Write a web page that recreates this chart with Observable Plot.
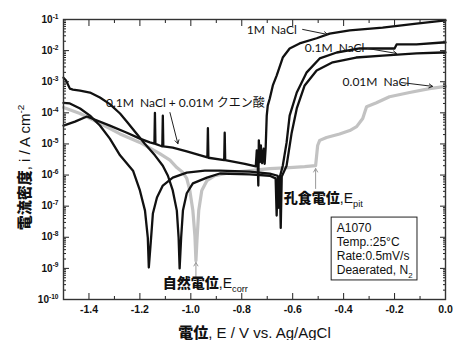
<!DOCTYPE html>
<html><head><meta charset="utf-8">
<script src="https://cdn.jsdelivr.net/npm/d3@7"></script>
<script src="https://cdn.jsdelivr.net/npm/@observablehq/plot@0.6"></script>
<style>body{margin:0;background:#fff}</style>
</head><body><div id="chart"></div>
<script>
// ---- data: [E (V vs Ag/AgCl), i (A cm^-2)] ----
const nacl1M = [[-1.500,3.9e-5],[-1.455,5.2e-5],[-1.408,7.6e-5],[-1.318,3.9e-5],[-1.251,2.3e-5],[-1.200,1.48e-5],[-1.161,1.12e-5],[-1.143,1.02e-5],[-1.141,1.0e-4],[-1.139,1.0e-5],[-1.122,8.9e-6],[-1.112,8.4e-6],[-1.110,8.1e-5],[-1.108,8.3e-6],[-1.071,7.6e-6],[-1.016,5.8e-6],[-0.945,3.9e-6],[-0.935,3.7e-6],[-0.933,3.2e-5],[-0.931,3.6e-6],[-0.869,3.0e-6],[-0.867,2.3e-5],[-0.865,3.0e-6],[-0.788,2.3e-6],[-0.745,1.9e-6],[-0.741,6.2e-6],[-0.737,1.8e-6],[-0.735,4.6e-7],[-0.733,1.3e-5],[-0.729,2.6e-6],[-0.725,8.9e-6],[-0.720,2.4e-6],[-0.714,7.0e-6],[-0.710,2.3e-6],[-0.706,8.0e-6],[-0.702,8.0e-5],[-0.698,1.7e-4],[-0.690,2.9e-4],[-0.678,7.6e-4],[-0.663,1.58e-3],[-0.639,6.0e-3],[-0.612,1.17e-2],[-0.573,1.7e-2],[-0.506,2.5e-2],[-0.455,3.5e-2],[-0.376,4.5e-2],[-0.247,5.5e-2],[-0.114,7.4e-2],[0.000,9.3e-2]];
const nacl01M = [[-1.500,1.35e-3],[-1.490,1.10e-3],[-1.475,6.0e-4],[-1.463,5.6e-4],[-1.435,5.2e-4],[-1.396,4.5e-4],[-1.357,3.1e-4],[-1.318,1.9e-4],[-1.278,9.5e-5],[-1.251,5.2e-5],[-1.220,2.5e-5],[-1.180,1.0e-5],[-1.141,4.3e-6],[-1.110,2.0e-6],[-1.090,9.5e-7],[-1.071,3.2e-7],[-1.055,7.2e-8],[-1.048,9.8e-9],[-1.044,1.0e-9],[-1.038,9.8e-9],[-1.031,7.2e-8],[-1.016,2.6e-7],[-0.992,5.4e-7],[-0.937,8.3e-7],[-0.886,1.12e-6],[-0.769,1.05e-6],[-0.690,9.5e-7],[-0.667,7.8e-7],[-0.663,5.0e-8],[-0.659,7.1e-7],[-0.655,1.5e-7],[-0.650,8.9e-7],[-0.639,2.0e-6],[-0.624,1.1e-5],[-0.612,8.1e-5],[-0.584,4.5e-4],[-0.545,2.0e-3],[-0.494,5.6e-3],[-0.427,8.7e-3],[-0.337,1.17e-2],[-0.200,1.17e-2],[-0.192,1.58e-2],[-0.114,1.58e-2],[-0.012,1.82e-2],[0.000,1.82e-2]];
const nacl001M = [[-1.500,2.1e-4],[-1.475,2.0e-4],[-1.435,1.38e-4],[-1.396,8.1e-5],[-1.357,3.9e-5],[-1.318,1.48e-5],[-1.278,4.3e-6],[-1.227,1.38e-6],[-1.200,3.2e-7],[-1.180,7.2e-8],[-1.169,9.8e-9],[-1.165,1.07e-9],[-1.156,9.8e-9],[-1.149,5.8e-8],[-1.133,1.9e-7],[-1.110,4.6e-7],[-1.071,8.3e-7],[-1.016,1.2e-6],[-0.945,1.38e-6],[-0.886,1.38e-6],[-0.769,1.29e-6],[-0.690,1.12e-6],[-0.659,9.5e-7],[-0.655,8.9e-8],[-0.651,8.9e-7],[-0.647,2.0e-8],[-0.643,8.9e-7],[-0.624,2.0e-6],[-0.604,2.3e-5],[-0.584,1.38e-4],[-0.553,7.6e-4],[-0.506,2.3e-3],[-0.443,4.2e-3],[-0.351,6.0e-3],[-0.247,6.9e-3],[-0.114,8.1e-3],[-0.012,8.7e-3],[0.000,8.7e-3]];
const naclCitric = [[-1.500,1.48e-4],[-1.435,9.5e-5],[-1.357,4.6e-5],[-1.278,2.1e-5],[-1.200,1.12e-5],[-1.122,4.9e-6],[-1.082,3.0e-6],[-1.055,1.74e-6],[-1.031,1.2e-6],[-1.016,7.8e-7],[-1.004,3.2e-7],[-0.992,7.2e-8],[-0.984,1.12e-8],[-0.980,1.78e-9],[-0.976,7.8e-9],[-0.969,7.2e-8],[-0.957,3.2e-7],[-0.937,6.6e-7],[-0.906,9.5e-7],[-0.847,1.2e-6],[-0.769,1.38e-6],[-0.690,1.62e-6],[-0.612,1.74e-6],[-0.553,1.86e-6],[-0.510,2.0e-6],[-0.502,8.9e-6],[-0.494,1.3e-5],[-0.467,1.62e-5],[-0.416,2.1e-5],[-0.376,2.7e-5],[-0.349,3.6e-5],[-0.325,6.6e-5],[-0.310,1.58e-4],[-0.271,2.1e-4],[-0.220,3.3e-4],[-0.141,4.5e-4],[-0.063,6.0e-4],[0.000,7.1e-4]];

// ---- axis ticks & labels ----
const xMajor = [-1.4,-1.2,-1.0,-0.8,-0.6,-0.4,-0.2,0.0];
const xMinor = [-1.5,-1.3,-1.1,-0.9,-0.7,-0.5,-0.3,-0.1];
const yMajor = [1e-1,1e-2,1e-3,1e-4,1e-5,1e-6,1e-7,1e-8,1e-9,1e-10];
const yTickLabels = ["10^{-1}","10^{-2}","10^{-3}","10^{-4}","10^{-5}","10^{-6}","10^{-7}","10^{-8}","10^{-9}","10^{-10}"];
const yMinor = yMajor.slice(1).flatMap(d => [2,3,4,5,6,7,8,9].map(m => m * d));
const xTitle = "**電位**, E / V vs. Ag/AgCl";
const yTitle = "**電流密度**, i / A cm^{-2}";

// ---- annotations ----
const labels = [
  {text: "1M\u00a0 NaCl", E: -0.780, i: 4.4e-2},
  {text: "0.1M\u00a0 NaCl", E: -0.553, i: 1.17e-2},
  {text: "0.01M\u00a0 NaCl", E: -0.404, i: 9.4e-4},
  {text: "0.1M\u00a0 NaCl + 0.01M クエン酸", E: -1.333, i: 2.1e-4}
];
const arrows = [
  {E1: -0.561, i1: 4.8e-2, E2: -0.463, i2: 3.3e-2},
  {E1: -0.306, i1: 1.17e-2, E2: -0.192, i2: 8.1e-3},
  {E1: -0.173, i1: 9.4e-4, E2: -0.051, i2: 7.1e-4},
  {E1: -1.082, i1: 1.02e-4, E2: -1.051, i2: 1.02e-5}
];
const potLabels = [
  {text: "**孔食電位**,E_{pit}", E: -0.635, i: 1.74e-7},
  {text: "**自然電位**,E_{corr}", E: -1.110, i: 3.2e-10}
];
const potArrows = [
  {E1: -0.510, i1: 3.7e-7, E2: -0.510, i2: 1.62e-6},
  {E1: -0.980, i1: 5.0e-10, E2: -0.980, i2: 1.55e-9}
];
const boxLines = ["A1070", "Temp.:25°C", "Rate:0.5mV/s", "Deaerated, N_{2}"];
const boxLineI = [2.0e-8, 6.8e-9, 2.4e-9, 8.5e-10];
const box = [{E1: -0.447, E2: -0.110, i1: 4.1e-10, i2: 4.3e-8}];
const boxTextE = -0.427;

const toRows = (name, arr) => arr.map(([E, i]) => ({series: name, E, i}));
const blackRows = [
  ...toRows("1M NaCl", nacl1M),
  ...toRows("0.1M NaCl", nacl01M),
  ...toRows("0.01M NaCl", nacl001M)
];
const grayRows = toRows("0.1M NaCl + 0.01M citric acid", naclCitric);

const INK = "#222";
const plot = Plot.plot({
  width: 456, height: 340,
  marginLeft: 63, marginRight: 11, marginTop: 19, marginBottom: 41,
  style: {fontFamily: "'Liberation Sans', Arial, sans-serif", background: "#fff", color: INK},
  x: {domain: [-1.5, 0]},
  y: {type: "log", domain: [1e-10, 1e-1]},
  marks: [
    Plot.line(grayRows, {x: "E", y: "i", stroke: "#c2c2c2", strokeWidth: 3.2, strokeLinejoin: "round"}),
    Plot.line(blackRows, {x: "E", y: "i", z: "series", stroke: "#111", strokeWidth: 2.3, strokeLinejoin: "round"}),
    Plot.text(labels, {x: "E", y: "i", text: "text", textAnchor: "start", fontSize: 12, fontFamily: "Lato, 'Noto Sans CJK JP', sans-serif", fill: "#111"}),
    Plot.arrow(arrows, {x1: "E1", y1: "i1", x2: "E2", y2: "i2", stroke: "#222", strokeWidth: 1, headLength: 6}),
    Plot.arrow(potArrows, {x1: "E1", y1: "i1", x2: "E2", y2: "i2", stroke: "#999", strokeWidth: 1, headLength: 6}),
    Plot.text(potLabels, {x: "E", y: "i", text: "text", textAnchor: "start", fontSize: 14, fill: "#111"}),
    Plot.rect(box, {x1: "E1", x2: "E2", y1: "i1", y2: "i2", fill: "#fff", stroke: "#222", strokeWidth: 1}),
    Plot.text(boxLines, {x: boxTextE, y: (d, k) => boxLineI[k], text: d => d, textAnchor: "start", fontSize: 12, fill: "#111"}),
    // ticks (inward)
    Plot.axisX(xMajor, {anchor: "bottom", tickSize: -6, fill: "none", stroke: INK}),
    Plot.axisX(xMinor, {anchor: "bottom", tickSize: -3, fill: "none", stroke: INK}),
    Plot.axisX(xMajor, {anchor: "top", tickSize: -6, fill: "none", stroke: INK}),
    Plot.axisX(xMinor, {anchor: "top", tickSize: -3, fill: "none", stroke: INK}),
    Plot.axisY(yMajor, {anchor: "left", tickSize: -6, fill: "none", stroke: INK}),
    Plot.axisY(yMinor, {anchor: "left", tickSize: -3, fill: "none", stroke: INK}),
    Plot.axisY(yMajor, {anchor: "right", tickSize: -6, fill: "none", stroke: INK}),
    Plot.axisY(yMinor, {anchor: "right", tickSize: -3, fill: "none", stroke: INK}),
    // tick labels
    Plot.axisX(xMajor, {anchor: "bottom", tickSize: 0, tickPadding: 6, tickFormat: d => d.toFixed(1), label: null, fontWeight: "bold", fontSize: 10.5, fill: "#111"}),
    Plot.axisY(yMajor, {anchor: "left", tickSize: 0, tickPadding: 5, tickFormat: d => yTickLabels[yMajor.indexOf(d)], label: null, fontWeight: "bold", fontSize: 10, fill: "#111"}),
    // axis titles
    Plot.text([xTitle], {frameAnchor: "bottom", dy: 38, text: d => d, textAnchor: "middle", fontSize: 15, fill: "#111"}),
    Plot.text([yTitle], {frameAnchor: "left", dx: -38, dy: 8, rotate: -90, textAnchor: "middle", lineAnchor: "middle", text: d => d, fontSize: 15, fill: "#111"}),
    Plot.frame({stroke: "#333", strokeWidth: 1.4})
  ]
});
document.getElementById("chart").appendChild(plot);

// rich text: **bold CJK**, ^{superscript}, _{subscript}
function parseRich(s) {
  const re = /\*\*(.+?)\*\*|\^\{(.+?)\}|_\{(.+?)\}/g;
  const out = []; let last = 0, m;
  while ((m = re.exec(s))) {
    if (m.index > last) out.push({s: s.slice(last, m.index), t: "n"});
    if (m[1]) out.push({s: m[1], t: "b"});
    else if (m[2]) out.push({s: m[2], t: "sup"});
    else out.push({s: m[3], t: "sub"});
    last = re.lastIndex;
  }
  if (last < s.length) out.push({s: s.slice(last), t: "n"});
  return out;
}
d3.select(plot).selectAll("text").each(function () {
  const t = this.textContent;
  if (!/\*\*|\^\{|_\{/.test(t)) return;
  const fs = parseFloat(getComputedStyle(this).fontSize) || 10;
  const el = d3.select(this);
  el.text(null);
  let cur = 0;
  for (const p of parseRich(t)) {
    const ts = el.append("tspan").text(p.s);
    const target = p.t === "sup" ? -0.42 * fs : p.t === "sub" ? 0.3 * fs : 0;
    if (target !== cur) { ts.attr("dy", target - cur); cur = target; }
    if (p.t === "sup" || p.t === "sub") ts.attr("font-size", (fs * 0.66).toFixed(1));
    if (p.t === "b") ts.attr("font-weight", 900).attr("font-family", "'Noto Sans CJK JP', sans-serif");
  }
});
</script>
</body></html>
